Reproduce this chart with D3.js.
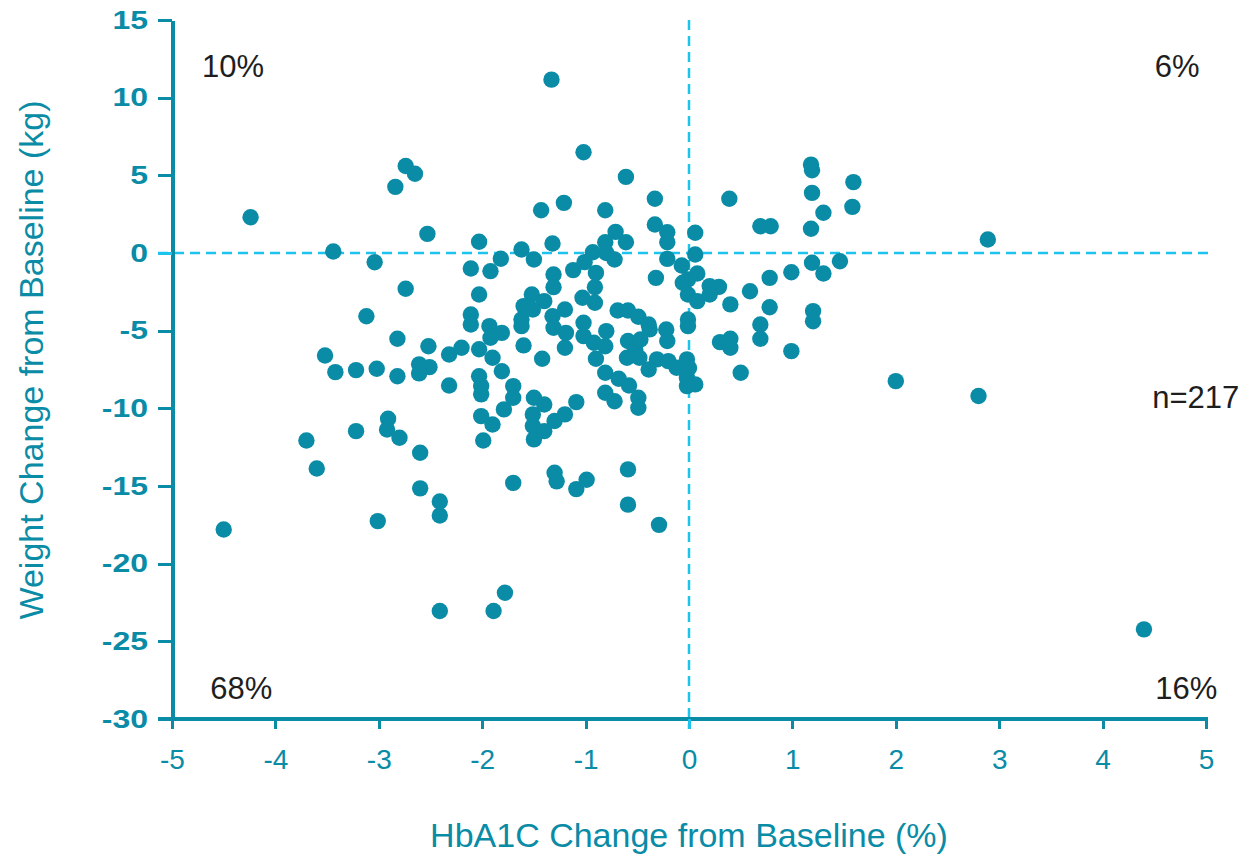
<!DOCTYPE html>
<html>
<head>
<meta charset="utf-8">
<script src="https://cdn.jsdelivr.net/npm/d3@7"></script>
<style>
  html, body { margin: 0; padding: 0; background: #fff; }
  svg { display: block; }
</style>
</head>
<body>
<svg id="chart" width="1247" height="859"></svg>
<script>
// HbA1c change (%) per patient
const hba1cChange = [
  -4.24, -3.44, -3.04, -2.74, -2.65, -2.84, -2.53, -2.74,
  -3.12, -2.82, -2.52, -3.52, -3.42, -3.22, -3.02, -2.82, -2.61, -2.51, -2.61,
  -2.91, -2.92, -2.80, -3.22, -3.70, -3.60, -2.60, -2.60, -2.41,
  -4.50, -3.01, -2.41, -2.41,
  -1.33, -1.02, -0.61, -0.33, -1.43, -1.21, -0.81, -2.03, -1.32, -1.62, -1.50, -1.82,
  -2.11, -1.92, -1.12, -1.31, -0.90, -1.01, -0.93, -0.81, -0.71, -0.61, -0.72, -0.80,
  -0.33, -0.21, -0.21, -0.21, -0.07, -0.01, 0.06, 0.06, -0.32, -1.31, -0.91, -2.03, -1.52,
  -1.60, -1.40, -1.03, -0.91, -0.69, -0.59, -0.49, -0.39, -2.11, -2.11, -1.93, -1.81,
  -1.92, -2.03, -1.90, -1.62, -1.62, -1.51, -1.32, -1.31, -1.20, -1.19, -1.20, -1.60,
  -1.42, -1.02, -1.02, -0.92, -0.80, -0.81, -0.90, -0.59, -0.52, -0.47, -0.60, -0.48,
  -0.38, -0.22, -0.21, -0.31, -0.20, -0.39, -0.12, -0.02, -0.02, 0.06, -0.02, -0.01, -0.01,
  -2.32, -2.20, -2.32, -2.03, -2.01, -2.01, -1.81, -1.70, -1.70, -1.79, -2.01, -1.90,
  -1.99, -1.50, -1.40, -1.51, -1.51, -1.50, -1.40, -1.30, -1.20, -1.09, -0.81, -0.68,
  -0.58, -0.49, -0.49, -0.81, -0.72, -1.70, -1.30, -1.28, -1.09, -0.99, -0.59, -0.59,
  -0.29, -1.89, -1.78,
  1.18, 1.19, 1.59, 1.19, 0.39, 1.30, 1.58, 0.69, 0.79, 1.18, 0.08, -0.06, 0.08, 0.20,
  0.29, 0.20, 0.40, 0.59, 0.78, 0.99, 1.19, 1.30, 1.46, 0.78, 1.20, 1.20, -0.01, 0.69,
  0.69, 0.30, 0.40, 0.40, 0.99,
  0.50, 2.00, 2.80, 4.40, 0.00, 2.89
];

// Weight change (kg) per patient, same order
const weightChange = [
  2.3, 0.1, -0.6, 5.6, 5.1, 4.26, 1.23, -2.3,
  -4.07, -5.52, -6.0, -6.6, -7.67, -7.54, -7.45, -7.93, -7.17, -7.35, -7.75,
  -10.67, -11.36, -11.89, -11.47, -12.07, -13.87, -12.86, -15.15, -16.0,
  -17.8, -17.26, -16.9, -23.05,
  11.16, 6.49, 4.9, 3.49, 2.75, 3.23, 2.75, 0.72, 0.61, 0.23, -0.42, -0.37,
  -1.0, -1.17, -1.1, -1.38, -1.28, -0.59, 0.05, 0.69, 1.36, 0.69, -0.42, 0.0,
  1.83, 1.34, 0.69, -0.38, -0.8, -1.7, 1.3, -0.1, -1.6, -2.2, -2.2, -2.67, -2.67,
  -3.42, -3.1, -2.88, -3.2, -3.7, -3.7, -4.1, -4.6, -3.96, -4.6, -4.71, -5.14,
  -5.46, -6.2, -6.74, -4.28, -4.71, -3.64, -4.07, -4.81, -3.64, -5.14, -6.1, -5.95,
  -6.81, -4.49, -5.35, -5.78, -5.03, -6.0, -6.81, -5.67, -6.21, -5.57, -6.74, -6.74,
  -4.92, -4.92, -5.67, -6.85, -6.96, -7.5, -7.39, -6.85, -8.03, -8.46, -8.57, -4.28, -2.67,
  -6.53, -6.1, -8.53, -7.93, -8.57, -9.1, -7.61, -8.57, -9.32, -10.07, -10.5, -11.04,
  -12.07, -9.32, -9.75, -10.39, -11.14, -12.0, -11.47, -10.82, -10.39, -9.6, -7.71, -8.1,
  -8.53, -9.32, -9.96, -9.0, -9.54, -14.8, -14.15, -14.7, -15.2, -14.6, -13.93, -16.2,
  -17.5, -23.05, -21.87,
  5.69, 5.33, 4.56, 3.87, 3.49, 2.59, 2.97, 1.72, 1.72, 1.56, -1.32, -1.92, -3.1, -2.13,
  -2.18, -2.67, -3.31, -2.46, -1.6, -1.24, -0.63, -1.32, -0.53, -3.49, -3.74, -4.39, -4.71, -4.6,
  -5.52, -5.74, -5.52, -6.1, -6.32,
  -7.71, -8.25, -9.21, -24.23, -7.4, 0.87
];

const xTicks = [-5, -4, -3, -2, -1, 0, 1, 2, 3, 4, 5];
const yTicks = [15, 10, 5, 0, -5, -10, -15, -20, -25, -30];

// Share of patients per quadrant, plus sample size
const quadrantLabels = ["10%", "6%", "68%", "16%"];
const sampleLabel = "n=217";

const xTitle = "HbA1C Change from Baseline (%)";
const yTitle = "Weight Change from Baseline (kg)";

const teal = "#0a8ba6";
const refBlue = "#1cc3ee";
const sans = "'Liberation Sans', Arial, Helvetica, sans-serif";

const svg = d3.select("#chart");

const x = d3.scaleLinear().domain([-5, 5]).range([172, 1206]);
const y = d3.scaleLinear().domain([-30, 15]).range([719, 20]);

// Dashed reference lines at zero
svg.append("line")
  .attr("x1", x(-5) - 14).attr("x2", x(5) + 7)
  .attr("y1", y(0)).attr("y2", y(0))
  .attr("stroke", refBlue).attr("stroke-width", 2.5)
  .attr("stroke-dasharray", "10,6");
svg.append("line")
  .attr("x1", x(0)).attr("x2", x(0))
  .attr("y1", y(15)).attr("y2", y(-30) + 10)
  .attr("stroke", refBlue).attr("stroke-width", 2.5)
  .attr("stroke-dasharray", "10,6");

// Axes
const minus = d => d < 0 ? "-" + Math.abs(d) : String(d);

const xAxis = d3.axisBottom(x).tickValues(xTicks).tickSize(10).tickSizeOuter(0)
  .tickFormat(minus);
const gx = svg.append("g").attr("transform", `translate(0,${y(-30)})`).call(xAxis);
gx.select(".domain").attr("stroke", teal).attr("stroke-width", 4)
  .attr("d", `M${x(-5) - 14},0H${x(5) + 2}`);
gx.selectAll(".tick line").attr("stroke", d => d === 0 ? refBlue : teal).attr("stroke-width", 3);
gx.selectAll(".tick text")
  .attr("y", 41)
  .attr("dy", "0.32em")
  .attr("fill", teal)
  .style("font-family", sans)
  .style("font-size", "28px");

const yAxis = d3.axisLeft(y).tickValues(yTicks).tickSize(14).tickSizeOuter(0)
  .tickFormat(minus);
const gy = svg.append("g").attr("transform", `translate(${x(-5)},0)`).call(yAxis);
gy.select(".domain").attr("stroke", teal).attr("stroke-width", 4);
gy.selectAll(".tick line").attr("stroke", d => d === 0 ? refBlue : teal)
  .attr("stroke-width", d => d === 0 ? 2.5 : 3);
gy.selectAll(".tick text")
  .attr("x", 0)
  .attr("transform", "translate(-24,0) scale(1.28,1)")
  .attr("fill", teal)
  .style("font-family", sans)
  .style("font-weight", "bold")
  .style("font-size", "25px");

svg.selectAll(".domain, .tick line").attr("shape-rendering", "crispEdges");

// Patient points
const points = hba1cChange.map((v, i) => ({ hba1c: v, weight: weightChange[i] }));
svg.append("g").selectAll("circle")
  .data(points)
  .join("circle")
  .attr("cx", d => x(d.hba1c))
  .attr("cy", d => y(d.weight))
  .attr("r", 8.2)
  .attr("fill", teal);

// Quadrant percentages and sample size
const labelStyle = sel => sel
  .attr("fill", "#1e1e1e")
  .style("font-family", sans)
  .style("font-size", "31px");

const quadrantPos = [
  { hba1c: -4.41, weight: 12.0 },
  { hba1c: 4.72, weight: 12.0 },
  { hba1c: -4.33, weight: -28.0 },
  { hba1c: 4.81, weight: -28.0 }
];
svg.append("g").selectAll("text")
  .data(quadrantLabels)
  .join("text")
  .attr("x", (d, i) => x(quadrantPos[i].hba1c))
  .attr("y", (d, i) => y(quadrantPos[i].weight))
  .attr("dy", "0.35em")
  .attr("text-anchor", "middle")
  .call(labelStyle)
  .text(d => d);

svg.append("text")
  .attr("x", x(4.48))
  .attr("y", y(-9.3))
  .attr("dy", "0.35em")
  .call(labelStyle)
  .text(sampleLabel);

// Axis titles
svg.append("text")
  .attr("x", x(0))
  .attr("y", 835)
  .attr("dy", "0.35em")
  .attr("text-anchor", "middle")
  .attr("fill", teal)
  .style("font-family", sans)
  .style("font-size", "34px")
  .text(xTitle);

svg.append("text")
  .attr("transform", "translate(31,360) rotate(-90)")
  .attr("dy", "0.35em")
  .attr("text-anchor", "middle")
  .attr("fill", teal)
  .style("font-family", sans)
  .style("font-size", "34px")
  .text(yTitle);
</script>
</body>
</html>
